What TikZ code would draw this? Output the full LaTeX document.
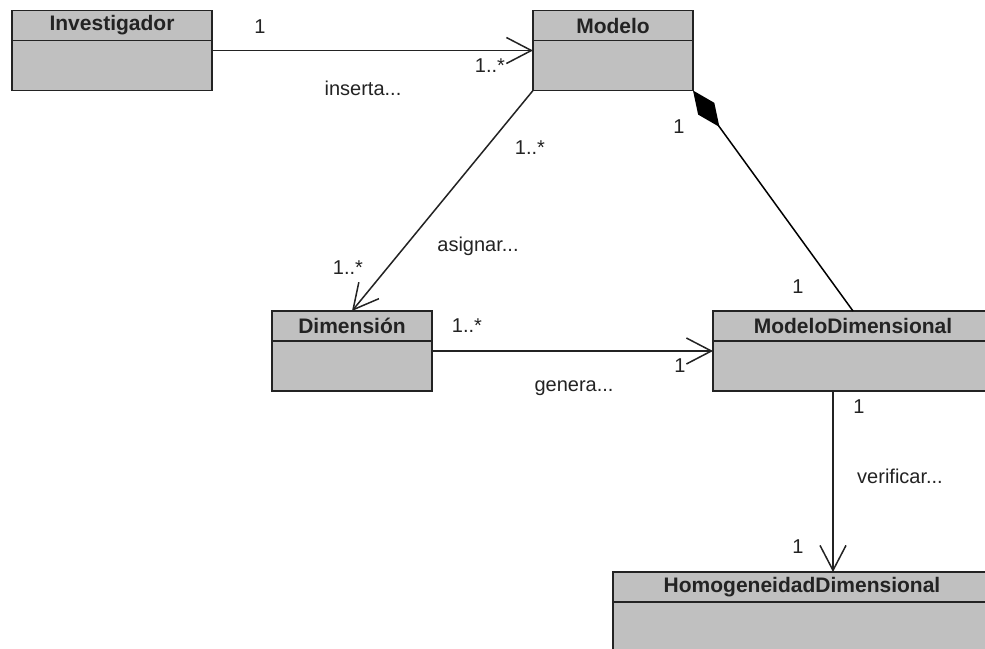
\documentclass[tikz,border=0pt]{standalone}
\usepackage{fontspec}
\setmainfont{Liberation Sans}
\usetikzlibrary{arrows.meta}
\definecolor{boxfill}{RGB}{192,192,192}
\definecolor{ink}{RGB}{35,35,35}
\tikzset{
  cls/.style={draw=ink, fill=boxfill, line width=1.8pt, inner sep=0pt, outer sep=0pt,
    minimum height=80pt,
    path picture={\draw[ink, line width=1.8pt]
      ([yshift=-30pt]path picture bounding box.north west) --
      ([yshift=-30pt]path picture bounding box.north east);}},
  hdr/.style={font=\bfseries\fontsize{21}{24}\selectfont, text=ink, anchor=center,
    inner sep=0pt, yshift=-15pt},
  lbl/.style={font=\fontsize{20}{24}\selectfont, text=ink, inner sep=0pt},
  assoc/.style={draw=ink, line width=1.5pt,
    -{Straight Barb[length=25pt,width=26pt,line width=1.5pt]}},
  comp/.style={draw=black, line width=1.5pt, {Diamond[length=45pt,width=20pt]}-},
}
\begin{document}
\begin{tikzpicture}[x=1pt, y=-1pt]
  \useasboundingbox (0,0) rectangle (985,648);
  \clip (0,0) rectangle (985,648);
  \fill[white] (0,0) rectangle (985,648);

  % classes
  \node[cls, minimum width=200pt, label={[hdr]north:Investigador}] (inv) at (112,50.5) {};
  \node[cls, minimum width=160pt, label={[hdr]north:Modelo}] (mod) at (613,50.5) {};
  \node[cls, minimum width=160pt, label={[hdr]north:Dimensión}] (dim) at (352,351) {};
  \node[cls, minimum width=280pt, label={[hdr]north:ModeloDimensional}] (md) at (853,351) {};
  \node[cls, minimum width=378pt, label={[hdr]north:HomogeneidadDimensional}] (hd) at (802,612) {};

  % associations
  \draw[assoc] (inv.east) -- (mod.west);
  \draw[assoc] (mod.south west) -- (dim.north);
  \draw[comp] (mod.south east) -- (md.north);
  \draw[assoc] (dim.east) -- (md.west);
  \coordinate (vx) at (833,0);
  \draw[assoc] (md.south -| vx) -- (hd.north -| vx);

  % multiplicities and association names
  \node[lbl] (m1) at (260,27) {1};
  \node[lbl] (m2) at (490,66) {1..*};
  \node[lbl] (n1) at (363,88) {inserta...};
  \node[lbl] (m3) at (530,148) {1..*};
  \node[lbl] (n2) at (478,246) {asignar...};
  \node[lbl] (m4) at (348,268) {1..*};
  \node[lbl] (m5) at (679,127) {1};
  \node[lbl] (m6) at (798,287) {1};
  \node[lbl] (m7) at (467,326) {1..*};
  \node[lbl] (m8) at (680,366) {1};
  \node[lbl] (n3) at (574,388) {genera...};
  \node[lbl] (m9) at (859,407) {1};
  \node[lbl] (n4) at (900,476) {verificar...};
  \node[lbl] (m10) at (798,547) {1};
\end{tikzpicture}
\end{document}
